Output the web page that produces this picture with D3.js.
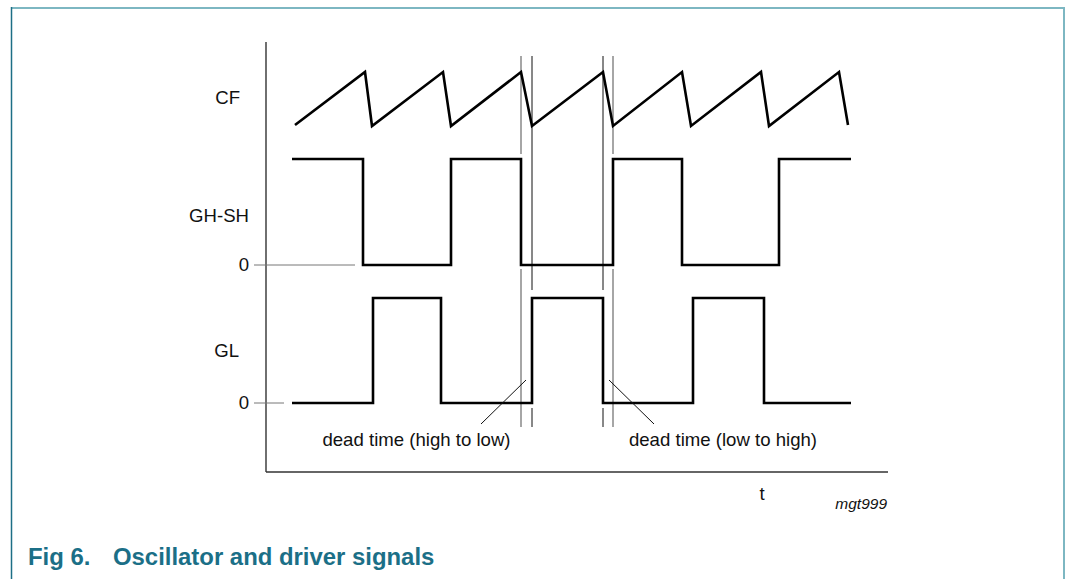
<!DOCTYPE html>
<html>
<head>
<meta charset="utf-8">
<script src="https://cdn.jsdelivr.net/npm/d3@7"></script>
<style>
  html, body { margin: 0; padding: 0; background: #fff; }
  svg { display: block; }
  text { font-family: "Liberation Sans", Arial, sans-serif; fill: #111; }
</style>
</head>
<body>
<svg id="chart" width="1066" height="579"></svg>
<script>
// ---- data (time in arbitrary units from the vertical axis) ----
const cfTimes   = [29, 99, 106, 177, 185, 255, 266, 337, 347, 416, 425, 495, 503, 573, 582];
const cfValues  = [0.02, 1, 0, 1, 0, 1, 0, 1, 0, 1, 0, 1, 0, 1, 0.02];

const ghTimes   = [26, 97, 185, 255, 347, 416, 513, 585];   // transition times
const ghLevels  = [1, 0, 1, 0, 1, 0, 1];                    // level in each interval

const glTimes   = [26, 107, 175, 266, 337, 427, 498, 585];
const glLevels  = [0, 1, 0, 1, 0, 1, 0];

const deadGrey  = [255, 347];   // edges of CF / GH-SH
const deadBlack = [266, 337];   // edges of GL

const signalLabels = ["CF", "GH-SH", "GL"];
const zeroLabel = "0";
const deadLabels = ["dead time (high to low)", "dead time (low to high)"];
const axisLabel = "t";
const figId = "mgt999";
const caption = ["Fig 6.", "Oscillator and driver signals"];

// ---- layout ----
const svg = d3.select("#chart");
const x = d3.scaleLinear().domain([0, 622]).range([266, 888]);
const yCF = d3.scaleLinear().domain([0, 1]).range([126, 72]);
const yGH = d3.scaleLinear().domain([0, 1]).range([265, 159]);
const yGL = d3.scaleLinear().domain([0, 1]).range([403, 298]);

// frame
svg.append("line").attr("x1", 11).attr("x2", 1065).attr("y1", 8).attr("y2", 8)
  .attr("stroke", "#7db7c2").attr("stroke-width", 2);
svg.append("line").attr("x1", 1064).attr("x2", 1064).attr("y1", 7).attr("y2", 579)
  .attr("stroke", "#7db7c2").attr("stroke-width", 2);
svg.append("line").attr("x1", 11.5).attr("x2", 11.5).attr("y1", 7).attr("y2", 579)
  .attr("stroke", "#1d6f86").attr("stroke-width", 1.5);

// axes
svg.append("line").attr("x1", x(0)).attr("x2", x(0)).attr("y1", 42).attr("y2", 472)
  .attr("stroke", "#222").attr("stroke-width", 1.3);
svg.append("line").attr("x1", x(0)).attr("x2", x(622)).attr("y1", 472).attr("y2", 472)
  .attr("stroke", "#333").attr("stroke-width", 1.3);

// zero reference ticks
svg.append("line").attr("x1", x(-12)).attr("x2", x(89)).attr("y1", yGH(0)).attr("y2", yGH(0))
  .attr("stroke", "#777").attr("stroke-width", 1);
svg.append("line").attr("x1", x(-12)).attr("x2", x(18)).attr("y1", yGL(0)).attr("y2", yGL(0))
  .attr("stroke", "#777").attr("stroke-width", 1);

// dead-time lines
const deadSegsGrey = [[56, 154], [269, 427]];
const deadSegsBlack = [[56, 290], [408, 427]];
deadGrey.forEach(t => deadSegsGrey.forEach(s => {
  svg.append("line").attr("x1", x(t)).attr("x2", x(t)).attr("y1", s[0]).attr("y2", s[1])
    .attr("stroke", "#888").attr("stroke-width", 1.5);
}));
deadBlack.forEach(t => deadSegsBlack.forEach(s => {
  svg.append("line").attr("x1", x(t)).attr("x2", x(t)).attr("y1", s[0]).attr("y2", s[1])
    .attr("stroke", "#111").attr("stroke-width", 1);
}));

// signals
const cfLine = d3.line().x(d => x(d[0])).y(d => yCF(d[1]));
svg.append("path").datum(cfTimes.map((t, i) => [t, cfValues[i]]))
  .attr("d", cfLine).attr("fill", "none").attr("stroke", "#000")
  .attr("stroke-width", 2.6).attr("stroke-linejoin", "miter");

function squarePts(times, levels) {
  const pts = [];
  levels.forEach((lv, i) => { pts.push([times[i], lv]); pts.push([times[i + 1], lv]); });
  return pts;
}
[[ghTimes, ghLevels, yGH], [glTimes, glLevels, yGL]].forEach(([ts, lv, ys]) => {
  svg.append("path").datum(squarePts(ts, lv))
    .attr("d", d3.line().x(d => x(d[0])).y(d => ys(d[1])))
    .attr("fill", "none").attr("stroke", "#000").attr("stroke-width", 2.6)
    .attr("stroke-linejoin", "miter");
});

// labels
const fs = 18.6;
svg.append("text").attr("x", 240).attr("y", 104).attr("text-anchor", "end")
  .attr("font-size", fs).text(signalLabels[0]);
svg.append("text").attr("x", 249).attr("y", 222).attr("text-anchor", "end")
  .attr("font-size", fs).text(signalLabels[1]);
svg.append("text").attr("x", 239).attr("y", 357).attr("text-anchor", "end")
  .attr("font-size", fs).text(signalLabels[2]);
svg.append("text").attr("x", 249).attr("y", yGH(0) + 6).attr("text-anchor", "end")
  .attr("font-size", fs).text(zeroLabel);
svg.append("text").attr("x", 249).attr("y", yGL(0) + 6).attr("text-anchor", "end")
  .attr("font-size", fs).text(zeroLabel);

// dead time annotations
svg.append("line").attr("x1", 481).attr("y1", 424).attr("x2", 526).attr("y2", 380)
  .attr("stroke", "#111").attr("stroke-width", 1);
svg.append("line").attr("x1", 609).attr("y1", 380).attr("x2", 654).attr("y2", 424)
  .attr("stroke", "#111").attr("stroke-width", 1);
svg.append("text").attr("x", 416.5).attr("y", 446).attr("text-anchor", "middle")
  .attr("font-size", fs).text(deadLabels[0]);
svg.append("text").attr("x", 723).attr("y", 446).attr("text-anchor", "middle")
  .attr("font-size", fs).text(deadLabels[1]);

svg.append("text").attr("x", 762).attr("y", 500).attr("text-anchor", "middle")
  .attr("font-size", fs).text(axisLabel);
svg.append("text").attr("x", 887).attr("y", 509).attr("text-anchor", "end")
  .attr("font-size", 15.5).attr("font-style", "italic").text(figId);

// caption
const cap = svg.append("text").attr("y", 565).attr("font-size", 23.9)
  .attr("font-weight", "bold").style("fill", "#1b6f87");
cap.append("tspan").attr("x", 28).text(caption[0]);
cap.append("tspan").attr("x", 113).text(caption[1]);
</script>
</body>
</html>
